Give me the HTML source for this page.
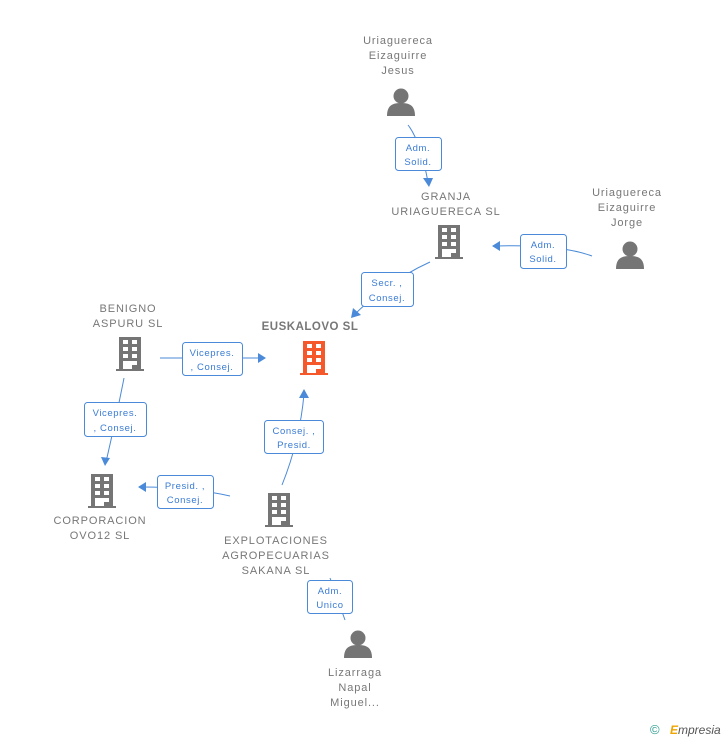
<!DOCTYPE html>
<html><head><style>
body{margin:0;background:#fff;}
svg{display:block;font-family:"Liberation Sans",sans-serif;}
.l{font-size:11px;fill:#777;text-anchor:middle;letter-spacing:0.9px;}
.b{font-size:9.5px;fill:#3a7bd5;text-anchor:middle;letter-spacing:0.6px;}
.bx{fill:#fff;stroke:#4a8ad8;stroke-width:1;}
.e{stroke:#4a8ad8;stroke-width:1;fill:none;}
.a{fill:#4a8ad8;}
</style></head><body>
<svg width="728" height="740" viewBox="0 0 728 740">
<defs>
<g id="bld">
<rect x="3" y="0" width="22" height="32"/>
<rect x="0" y="32" width="28" height="2"/>
<g fill="#fff">
<rect x="7" y="3" width="5" height="4"/><rect x="16" y="3" width="5" height="4"/>
<rect x="7" y="10" width="5" height="4"/><rect x="16" y="10" width="5" height="4"/>
<rect x="7" y="17" width="5" height="4"/><rect x="16" y="17" width="5" height="4"/>
<rect x="7" y="24" width="5" height="8"/><rect x="16" y="24" width="5" height="4"/>
<rect x="12" y="24" width="4" height="8"/>
</g>
</g>
<g id="per">
<circle cx="14" cy="8" r="7.5"/>
<path d="M0 28 C0 17 6 15 14 15 C22 15 28 17 28 28 Z"/>
</g>
</defs>

<path class="e" d="M408 125 Q420 140 428 182"/><path class="a" d="M423 178 L433 178 L429 187 Z"/>
<path class="e" d="M592 256 Q560 244 494 246"/><path class="a" d="M492 246 L500 241 L500 251 Z"/>
<path class="e" d="M430 262 Q390 280 354 315"/><path class="a" d="M351 318 L353 308 L361 315 Z"/>
<path class="e" d="M160 358 L262 358"/><path class="a" d="M266 358 L258 353 L258 363 Z"/>
<path class="e" d="M124 378 Q116 420 106 462"/><path class="a" d="M105 466 L101 457 L110 458 Z"/>
<path class="e" d="M230 496 Q190 487 142 487"/><path class="a" d="M138 487 L146 482 L146 492 Z"/>
<path class="e" d="M282 485 Q300 440 304 394"/><path class="a" d="M304 389 L309 398 L299 398 Z"/>
<path class="e" d="M330 578 L345 620"/>

<rect class="bx" x="395.5" y="137.5" width="46" height="33" rx="3"/><text class="b" x="418" y="151">Adm.</text><text class="b" x="418" y="165">Solid.</text>
<rect class="bx" x="520.5" y="234.5" width="46" height="34" rx="3"/><text class="b" x="543" y="248">Adm.</text><text class="b" x="543" y="262">Solid.</text>
<rect class="bx" x="361.5" y="272.5" width="52" height="34" rx="3"/><text class="b" x="387" y="286">Secr. ,</text><text class="b" x="387" y="301">Consej.</text>
<rect class="bx" x="182.5" y="342.5" width="60" height="33" rx="3"/><text class="b" x="212" y="356">Vicepres.</text><text class="b" x="212" y="370">, Consej.</text>
<rect class="bx" x="84.5" y="402.5" width="62" height="34" rx="3"/><text class="b" x="115" y="416">Vicepres.</text><text class="b" x="115" y="431">, Consej.</text>
<rect class="bx" x="157.5" y="475.5" width="56" height="33" rx="3"/><text class="b" x="185" y="489">Presid. ,</text><text class="b" x="185" y="503">Consej.</text>
<rect class="bx" x="264.5" y="420.5" width="59" height="33" rx="3"/><text class="b" x="294" y="434">Consej. ,</text><text class="b" x="294" y="448">Presid.</text>
<rect class="bx" x="307.5" y="580.5" width="45" height="33" rx="3"/><text class="b" x="330" y="594">Adm.</text><text class="b" x="330" y="608">Unico</text>

<g fill="#757575">
<use href="#bld" x="435" y="225"/>
<use href="#bld" x="116" y="337"/>
<use href="#bld" x="88" y="474"/>
<use href="#bld" x="265" y="493"/>
<use href="#per" x="387" y="88"/>
<use href="#per" x="616" y="241"/>
<use href="#per" x="344" y="630"/>
</g>
<use href="#bld" x="300" y="341" fill="#f5582a"/>

<text class="l" x="398" y="44">Uriaguereca</text><text class="l" x="398" y="59">Eizaguirre</text><text class="l" x="398" y="74">Jesus</text>
<text class="l" x="446" y="200">GRANJA</text><text class="l" x="446" y="215">URIAGUERECA SL</text>
<text class="l" x="627" y="196">Uriaguereca</text><text class="l" x="627" y="211">Eizaguirre</text><text class="l" x="627" y="226">Jorge</text>
<text class="l" x="310" y="330" style="font-weight:bold;font-size:11.5px;letter-spacing:0.5px">EUSKALOVO SL</text>
<text class="l" x="128" y="312">BENIGNO</text><text class="l" x="128" y="327">ASPURU SL</text>
<text class="l" x="100" y="524">CORPORACION</text><text class="l" x="100" y="539">OVO12 SL</text>
<text class="l" x="276" y="544">EXPLOTACIONES</text><text class="l" x="276" y="559">AGROPECUARIAS</text><text class="l" x="276" y="574">SAKANA SL</text>
<text class="l" x="355" y="676">Lizarraga</text><text class="l" x="355" y="691">Napal</text><text class="l" x="355" y="706">Miguel...</text>

<text x="650" y="734" style="font-size:13px;fill:#2a9d8f">©</text>
<text x="670" y="734" style="font-size:12px;fill:#555;font-style:italic"><tspan fill="#f0a500" font-weight="bold">E</tspan>mpresia</text>
</svg>
</body></html>
